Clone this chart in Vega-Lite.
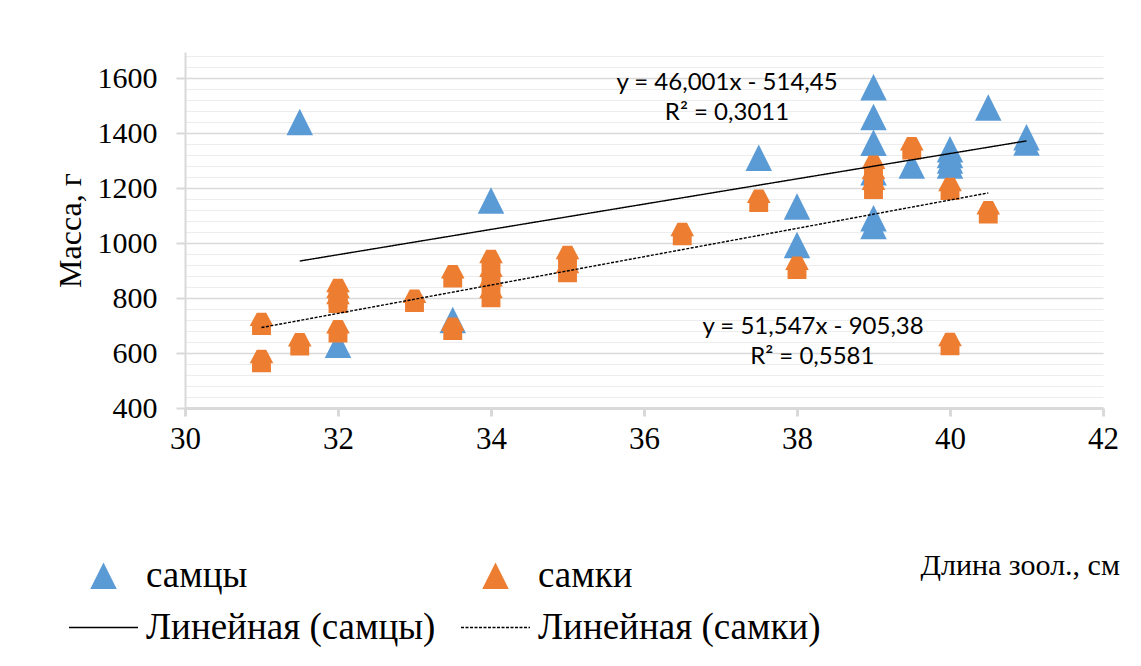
{
  "$schema": "https://vega.github.io/schema/vega-lite/v6.json",
  "width": 918,
  "height": 356,
  "autosize": "none",
  "padding": {"left": 185, "top": 52, "right": 38, "bottom": 258},
  "background": "white",
  "config": {
    "view": {"stroke": null},
    "font": "Liberation Serif"
  },
  "datasets": {
    "points": [
      {"x": 31.5, "y": 1440, "series": "самцы"},
      {"x": 32, "y": 630, "series": "самцы"},
      {"x": 33.5, "y": 720, "series": "самцы"},
      {"x": 34, "y": 1155, "series": "самцы"},
      {"x": 37.5, "y": 1310, "series": "самцы"},
      {"x": 38, "y": 1133, "series": "самцы"},
      {"x": 38, "y": 993, "series": "самцы"},
      {"x": 39, "y": 1567, "series": "самцы"},
      {"x": 39, "y": 1459, "series": "самцы"},
      {"x": 39, "y": 1365, "series": "самцы"},
      {"x": 39, "y": 1258, "series": "самцы"},
      {"x": 39, "y": 1090, "series": "самцы"},
      {"x": 39, "y": 1062, "series": "самцы"},
      {"x": 39.5, "y": 1282, "series": "самцы"},
      {"x": 40, "y": 1341, "series": "самцы"},
      {"x": 40, "y": 1320, "series": "самцы"},
      {"x": 40, "y": 1300, "series": "самцы"},
      {"x": 40, "y": 1282, "series": "самцы"},
      {"x": 40.5, "y": 1493, "series": "самцы"},
      {"x": 41, "y": 1385, "series": "самцы"},
      {"x": 41, "y": 1366, "series": "самцы"},
      {"x": 31, "y": 706, "series": "самки"},
      {"x": 31, "y": 571, "series": "самки"},
      {"x": 31.5, "y": 632, "series": "самки"},
      {"x": 32, "y": 829, "series": "самки"},
      {"x": 32, "y": 807, "series": "самки"},
      {"x": 32, "y": 786, "series": "самки"},
      {"x": 32, "y": 679, "series": "самки"},
      {"x": 33, "y": 790, "series": "самки"},
      {"x": 33.5, "y": 879, "series": "самки"},
      {"x": 33.5, "y": 688, "series": "самки"},
      {"x": 34, "y": 935, "series": "самки"},
      {"x": 34, "y": 885, "series": "самки"},
      {"x": 34, "y": 850, "series": "самки"},
      {"x": 34, "y": 807, "series": "самки"},
      {"x": 35, "y": 949, "series": "самки"},
      {"x": 35, "y": 898, "series": "самки"},
      {"x": 36.5, "y": 1033, "series": "самки"},
      {"x": 37.5, "y": 1154, "series": "самки"},
      {"x": 38, "y": 910, "series": "самки"},
      {"x": 39, "y": 1278, "series": "самки"},
      {"x": 39, "y": 1240, "series": "самки"},
      {"x": 39, "y": 1201, "series": "самки"},
      {"x": 39.5, "y": 1345, "series": "самки"},
      {"x": 40, "y": 1197, "series": "самки"},
      {"x": 40, "y": 633, "series": "самки"},
      {"x": 40.5, "y": 1112, "series": "самки"}
    ],
    "trends": [
      {"x": 31.5, "y": 934.6, "series": "Линейная (самцы)"},
      {"x": 41, "y": 1371.6, "series": "Линейная (самцы)"},
      {"x": 31, "y": 692.6, "series": "Линейная (самки)"},
      {"x": 40.5, "y": 1182.3, "series": "Линейная (самки)"}
    ],
    "notes": [
      {"x": 37.085, "y": 1581, "label": "y = 46,001x - 514,45"},
      {"x": 37.085, "y": 1472, "label": "R² = 0,3011"},
      {"x": 38.21, "y": 694, "label": "y = 51,547x - 905,38"},
      {"x": 38.2, "y": 585, "label": "R² = 0,5581"}
    ]
  },
  "encoding": {
    "x": {
      "field": "x", "type": "quantitative",
      "scale": {"domain": [30, 42], "nice": false, "zero": false},
      "axis": {
        "values": [30, 32, 34, 36, 38, 40, 42],
        "format": "d",
        "grid": false,
        "domainColor": "#d9d9d9", "domainWidth": 3,
        "tickColor": "#d9d9d9", "tickWidth": 3, "tickSize": 8,
        "labelFont": "Liberation Serif", "labelFontSize": 31, "labelColor": "#000000",
        "labelPadding": 8, "labelFlush": false, "labelOverlap": false,
        "title": "Длина зоол., см",
        "titleFont": "Liberation Serif", "titleFontSize": 30, "titleFontWeight": "normal", "titleColor": "#000000",
        "titleX": 735, "titleY": 157, "titleAlign": "left", "titleAnchor": "start", "titleBaseline": "middle"
      }
    },
    "y": {
      "field": "y", "type": "quantitative",
      "scale": {"domain": [400, 1695], "nice": false, "zero": false},
      "axis": {
        "values": [400, 440, 480, 520, 560, 600, 640, 680, 720, 760, 800, 840, 880, 920, 960, 1000, 1040, 1080, 1120, 1160, 1200, 1240, 1280, 1320, 1360, 1400, 1440, 1480, 1520, 1560, 1600, 1640, 1680],
        "format": "d",
        "labelExpr": "datum.value % 200 === 0 ? datum.label : ''",
        "grid": true,
        "gridColor": {"condition": {"test": "datum.value % 200 === 0", "value": "#d9d9d9"}, "value": "#ececec"},
        "gridWidth": {"condition": {"test": "datum.value % 200 === 0", "value": 1.5}, "value": 1},
        "tickOpacity": {"condition": {"test": "datum.value % 200 === 0", "value": 1}, "value": 0},
        "domainColor": "#d9d9d9", "domainWidth": 2,
        "tickColor": "#d9d9d9", "tickWidth": 2, "tickSize": 9,
        "labelFont": "Liberation Serif", "labelFontSize": 30, "labelColor": "#000000",
        "labelPadding": 19, "labelOverlap": false,
        "title": "Масса, г",
        "titleFont": "Liberation Serif", "titleFontSize": 32, "titleFontWeight": "normal", "titleColor": "#000000",
        "titleX": -115, "titleY": 178, "titleAngle": -90, "titleBaseline": "middle", "titleAlign": "center"
      }
    }
  },
  "layer": [
    {
      "data": {"name": "points"},
      "transform": [{"filter": "datum.series === 'самцы'"}],
      "mark": {"type": "point", "filled": true, "opacity": 1, "strokeWidth": 0},
      "encoding": {
        "color": {
          "field": "series", "type": "nominal",
          "scale": {"domain": ["самцы", "самки", "Линейная (самцы)", "Линейная (самки)"], "range": ["#5b9bd5", "#ed7d31", "#000000", "#000000"]},
          "legend": {
            "title": null, "orient": "none", "legendX": -100, "legendY": 505,
            "direction": "horizontal",
            "columns": 2, "padding": 0,
            "labelFont": "Liberation Serif", "labelFontSize": 37, "labelColor": "#000000", "labelLimit": 500,
            "labelOffset": 24, "columnPadding": 22, "rowPadding": 14,
            "symbolOpacity": 1,
            "encode": {
              "symbols": {
                "update": {
                  "size": {"signal": "datum.value === 'самцы' ? 560 : datum.value === 'самки' ? 820 : 4761"},
                  "strokeWidth": {"signal": "datum.value === 'самцы' || datum.value === 'самки' ? 0 : 1.3"},
                  "opacity": {"value": 1}
                }
              }
            }
          }
        },
        "shape": {
          "field": "series", "type": "nominal",
          "scale": {"domain": ["самцы", "самки", "Линейная (самцы)", "Линейная (самки)"], "range": ["M0,-1L1,1L-1,1Z", "M0,-1L1,1L-1,1Z", "stroke", "stroke"]}
        },
        "size": {
          "field": "series", "type": "nominal",
          "scale": {"type": "ordinal", "domain": ["самцы", "самки", "Линейная (самцы)", "Линейная (самки)"], "range": [702, 702, 4761, 4761]}
        }
      }
    },
    {
      "data": {"name": "points"},
      "transform": [{"filter": "datum.series === 'самки'"}],
      "mark": {"type": "point", "filled": true, "opacity": 1, "strokeWidth": 0, "size": 557, "shape": "M-0.4,-0.95L0.4,-0.95L1,0.19L0.8,0.19L0.8,0.95L-0.8,0.95L-0.8,0.19L-1,0.19Z"},
      "encoding": {
        "color": {
          "field": "series", "type": "nominal",
          "scale": {"domain": ["самцы", "самки", "Линейная (самцы)", "Линейная (самки)"], "range": ["#5b9bd5", "#ed7d31", "#000000", "#000000"]}
        }
      }
    },
    {
      "data": {"name": "trends"},
      "mark": {"type": "line", "strokeWidth": 1.4},
      "encoding": {
        "color": {
          "field": "series", "type": "nominal",
          "scale": {"domain": ["самцы", "самки", "Линейная (самцы)", "Линейная (самки)"], "range": ["#5b9bd5", "#ed7d31", "#000000", "#000000"]}
        },
        "strokeDash": {
          "field": "series", "type": "nominal",
          "scale": {"domain": ["самцы", "самки", "Линейная (самцы)", "Линейная (самки)"], "range": [[1, 0], [1, 0], [1, 0], [3, 1.5]]}
        }
      }
    },
    {
      "data": {"name": "notes"},
      "mark": {"type": "text", "font": "Lato", "fontSize": 24, "color": "#000000", "align": "center", "baseline": "middle"},
      "encoding": {"text": {"field": "label", "type": "nominal"}}
    }
  ]
}
